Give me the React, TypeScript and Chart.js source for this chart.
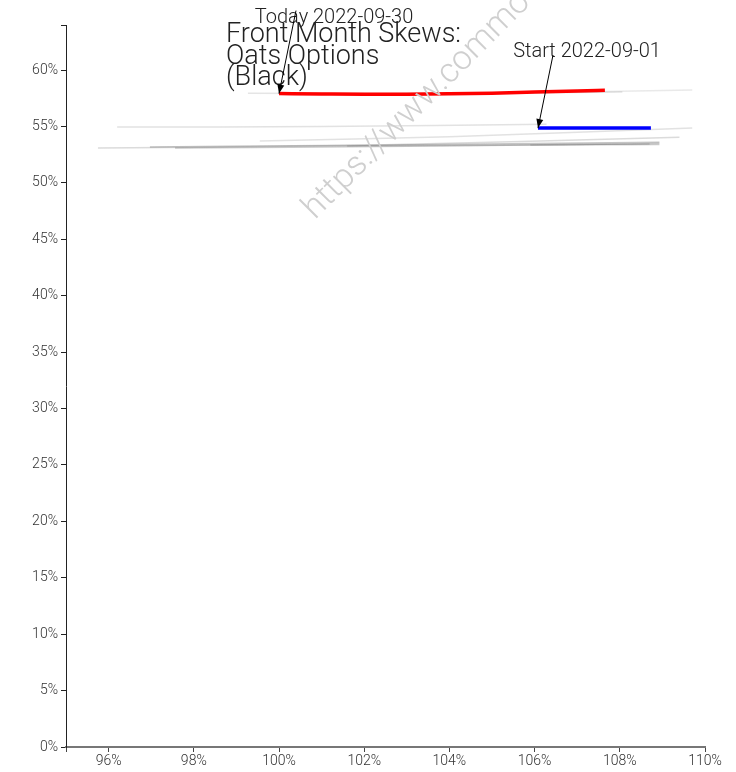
import React, { useEffect, useRef } from "react";
import { Chart, registerables } from "chart.js";

Chart.register(...registerables);

// ---- data ----
const xTickValues = [95, 96, 98, 100, 102, 104, 106, 108, 110];
const yTickValues = [0, 5, 10, 15, 20, 25, 30, 35, 40, 45, 50, 55, 60, 64];

const todayX = [100, 101, 102, 103, 104, 105, 106, 107, 107.65];
const todayY = [57.92, 57.89, 57.87, 57.87, 57.9, 57.96, 58.05, 58.15, 58.22];

const startX = [106.08, 107, 108, 108.73];
const startY = [54.86, 54.86, 54.86, 54.86];

const gray1X = [99.27, 103, 108.06];
const gray1Y = [57.96, 57.92, 58.05];
const gray2X = [100.2, 105, 109.7];
const gray2Y = [57.92, 57.98, 58.23];
const gray3X = [96.2, 101, 106.28];
const gray3Y = [54.95, 55.0, 55.2];
const gray4X = [99.55, 104, 109.7];
const gray4Y = [53.71, 54.1, 54.86];
const gray5X = [95.75, 102, 109.4];
const gray5Y = [53.09, 53.35, 54.06];
const gray6X = [96.97, 102, 108.93];
const gray6Y = [53.18, 53.35, 53.6];
const gray7X = [97.56, 103, 108.93];
const gray7Y = [53.1, 53.25, 53.5];
const gray8X = [101.6, 105, 108.7];
const gray8Y = [53.27, 53.35, 53.45];
const gray9X = [105.9, 107.5, 108.93];
const gray9Y = [53.36, 53.38, 53.4];

const grayXs = [gray1X, gray2X, gray3X, gray4X, gray5X, gray6X, gray7X, gray8X, gray9X];
const grayYs = [gray1Y, gray2Y, gray3Y, gray4Y, gray5Y, gray6Y, gray7Y, gray8Y, gray9Y];
const grayAlphas = [0.18, 0.15, 0.2, 0.2, 0.25, 0.4, 0.35, 0.3, 0.3];

const titleLines = ["Front Month Skews:", "Oats Options", "(Black)"];
const todayLabel = "Today 2022-09-30";
const startLabel = "Start 2022-09-01";
const watermark = "https://www.commoditycharts.com";

const FONT = "Roboto, 'Noto Sans', sans-serif";

const pts = (xs: number[], ys: number[]) => xs.map((x, i) => ({ x, y: ys[i] }));

const overlayPlugin = {
  id: "overlay",
  afterDatasetsDraw(chart: any) {
    const { ctx, scales } = chart;
    const xs = scales.x;
    const ys = scales.y;
    ctx.save();
    // watermark
    ctx.save();
    ctx.translate(315, 220);
    ctx.rotate(-Math.PI / 4);
    ctx.font = `300 34px ${FONT}`;
    ctx.fillStyle = "#cfcfcf";
    ctx.textBaseline = "alphabetic";
    ctx.textAlign = "left";
    ctx.fillText(watermark, 0, 0);
    ctx.restore();

    // title
    ctx.fillStyle = "#222";
    ctx.font = `300 27px ${FONT}`;
    ctx.textAlign = "left";
    ctx.textBaseline = "alphabetic";
    const tb = [42, 63.5, 85];
    titleLines.forEach((l, i) => ctx.fillText(l, 226, tb[i]));

    // annotations
    const anns = [
      { label: todayLabel, x: todayX[0], y: todayY[0], tdx: 55, tdy: -71, adx: 17, ady: -83 },
      { label: startLabel, x: startX[0], y: startY[0], tdx: 49, tdy: -71, adx: 15, ady: -73 },
    ];
    anns.forEach((a) => {
      const px = xs.getPixelForValue(a.x);
      const py = ys.getPixelForValue(a.y);
      ctx.font = `300 20px ${FONT}`;
      ctx.fillStyle = "#222";
      ctx.textAlign = "center";
      ctx.fillText(a.label, px + a.tdx, py + a.tdy);
      const sx = px + a.adx;
      const sy = py + a.ady;
      ctx.strokeStyle = "#000";
      ctx.lineWidth = 1;
      ctx.beginPath();
      ctx.moveTo(sx, sy);
      ctx.lineTo(px, py);
      ctx.stroke();
      const ang = Math.atan2(py - sy, px - sx);
      const L = 9;
      const W = 3.5;
      ctx.fillStyle = "#000";
      ctx.beginPath();
      ctx.moveTo(px, py);
      ctx.lineTo(px - L * Math.cos(ang) + W * Math.sin(ang), py - L * Math.sin(ang) - W * Math.cos(ang));
      ctx.lineTo(px - L * Math.cos(ang) - W * Math.sin(ang), py - L * Math.sin(ang) + W * Math.cos(ang));
      ctx.closePath();
      ctx.fill();
    });
    ctx.restore();
  },
};

export default function App() {
  const ref = useRef<HTMLCanvasElement | null>(null);
  useEffect(() => {
    if (!ref.current) return;
    const grayDatasets = grayXs.map((xs, i) => ({
      data: pts(xs, grayYs[i]),
      borderColor: `rgba(110,110,110,${grayAlphas[i]})`,
      borderWidth: 1.5,
      pointRadius: 0,
      tension: 0.4,
      fill: false,
    }));
    const chart = new Chart(ref.current, {
      type: "line",
      data: {
        datasets: [
          {
            data: pts(todayX, todayY),
            borderColor: "#ff0000",
            borderWidth: 3.5,
            pointRadius: 0,
            cubicInterpolationMode: "monotone",
            fill: false,
          } as any,
          {
            data: pts(startX, startY),
            borderColor: "#0000ff",
            borderWidth: 3.5,
            pointRadius: 0,
            fill: false,
          },
          ...grayDatasets,
        ],
      },
      options: {
        animation: false,
        responsive: false,
        maintainAspectRatio: false,
        layout: { padding: { top: 25, right: 31, left: 0, bottom: 0 } },
        plugins: { legend: { display: false }, tooltip: { enabled: false }, title: { display: false } },
        scales: {
          x: {
            type: "linear",
            min: 95,
            max: 110,
            afterBuildTicks: (s: any) => {
              s.ticks = xTickValues.map((v) => ({ value: v }));
            },
            afterFit: (s: any) => {
              s.height = 25;
            },
            ticks: {
              autoSkip: false,
              maxRotation: 0,
              padding: 1,
              color: "#333",
              font: { family: FONT, size: 14, weight: 300 as any },
              callback: (v: any) => (Number(v) === 95 ? "" : `${v}%`),
            },
            grid: { drawOnChartArea: false, drawTicks: true, tickLength: 5, color: "#444" },
            border: { display: true, color: "#777", width: 2 },
          },
          y: {
            type: "linear",
            min: 0,
            max: 64,
            afterBuildTicks: (s: any) => {
              s.ticks = yTickValues.map((v) => ({ value: v }));
            },
            afterFit: (s: any) => {
              s.width = 66;
            },
            ticks: {
              autoSkip: false,
              padding: 3,
              color: "#333",
              font: { family: FONT, size: 14, weight: 300 as any },
              callback: (v: any) => (Number(v) === 64 ? "" : `${v}%`),
            },
            grid: { drawOnChartArea: false, drawTicks: true, tickLength: 5, color: "#222" },
            border: { display: true, color: "#222", width: 1 },
          },
        },
      },
      plugins: [overlayPlugin],
    });
    return () => chart.destroy();
  }, []);
  return (
    <div style={{ position: "fixed", left: 0, top: 0, width: 736, height: 772, background: "#fff" }}>
      <canvas ref={ref} width={736} height={772} style={{ display: "block", width: 736, height: 772 }} />
    </div>
  );
}
